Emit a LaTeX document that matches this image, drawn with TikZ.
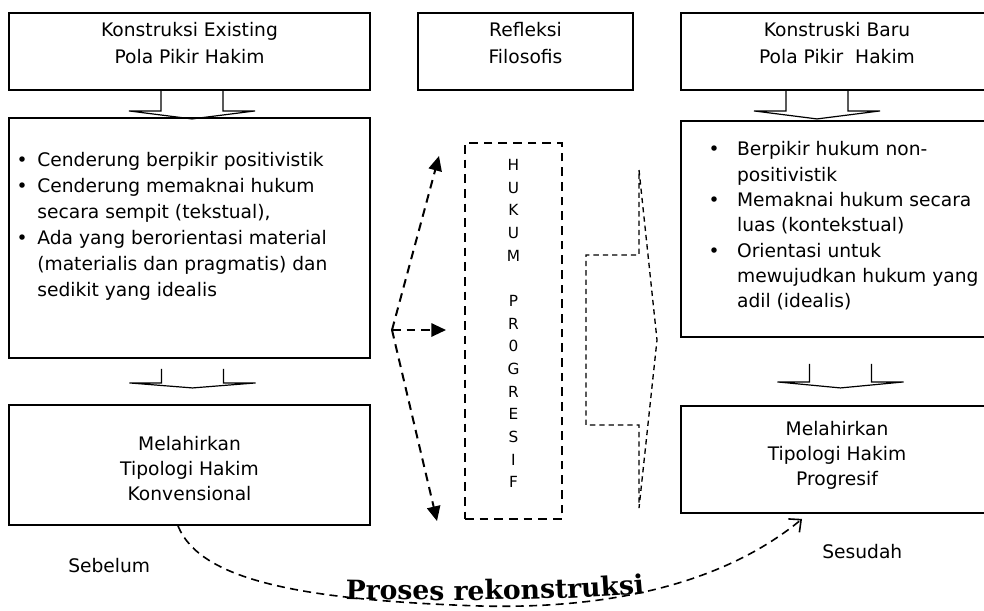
\documentclass[tikz,border=0pt]{standalone}
\usepackage{fontspec}
\setmainfont{DejaVu Sans}
\newfontfamily\wordartfont{DejaVu Serif}
\usetikzlibrary{arrows.meta,calc,decorations.text}

\tikzset{
  box/.style={draw, line width=1.4pt, inner sep=0pt},
  hollow/.style={line width=0.9pt},
  dashbox/.style={draw, line width=1.5pt, dash pattern=on 6.5pt off 4.5pt, inner sep=0pt},
  forkarrow/.style={line width=1.5pt, dash pattern=on 6.5pt off 4.5pt, -{Triangle[length=11pt,width=10pt]}},
  notch/.style={line width=1pt, dash pattern=on 4pt off 3pt},
  recon/.style={line width=1.2pt, dash pattern=on 6pt off 4pt, -{Straight Barb[length=7pt,width=13pt]}},
  side/.style={font=\fontsize{14}{17}\selectfont, inner sep=0pt}
}

% hollow block arrow: start point, stem length, head depth
\newcommand{\hollowdown}[3]{%
  \draw[hollow] (#1) ++(-31,0) -- ++(0,#2) -- ++(-32,0) -- ++(63,#3) -- ++(63,-#3) -- ++(-32,0) -- ++(0,-#2);}

\begin{document}
\begin{tikzpicture}[x=0.75pt,y=-0.75pt]
  \useasboundingbox (0,0) rectangle (984,610);
  % top row
  \node[box] (exist) at (189.5,51.5) {\parbox[c][57.75pt][t]{270.75pt}{\centering\fontsize{14}{20.25}\selectfont
    \vspace*{6.7pt}Konstruksi Existing\\Pola Pikir Hakim}};
  \node[box] (refl) at (525.5,51.5) {\parbox[c][57.75pt][t]{161.25pt}{\centering\fontsize{14}{20.25}\selectfont
    \vspace*{6.7pt}Refleksi\\Filosofis}};
  \node[box] (baru) at (837,51.5) {\parbox[c][57.75pt][t]{234pt}{\centering\fontsize{14}{20.25}\selectfont
    \vspace*{6.7pt}Konstruski Baru\\Pola Pikir~ Hakim}};
  % left column
  \node[box] (ciri) at (189.5,238) {\parbox[c][180pt][t]{270.75pt}{\fontsize{14}{19.5}\selectfont
    \vspace*{22.9pt}\hspace*{5.8pt}\begin{tabular}[t]{@{}l@{\hspace{7.2pt}}l@{}}
      \textbullet & Cenderung berpikir positivistik\\
      \textbullet & Cenderung memaknai hukum\\
                  & secara sempit (tekstual),\\
      \textbullet & Ada yang berorientasi material\\
                  & (materialis dan pragmatis) dan\\
                  & sedikit yang idealis
    \end{tabular}}};
  \node[box] (konv) at (189.5,465) {\parbox[c][90pt][t]{270.75pt}{\centering\fontsize{14}{18.75}\selectfont
    \vspace*{23.2pt}Melahirkan\\Tipologi Hakim\\Konvensional}};
  % right column
  \node[box] (cirib) at (837,229) {\parbox[c][162pt][t]{234pt}{\fontsize{14}{19}\selectfont
    \vspace*{12.7pt}\hspace*{20.8pt}\begin{tabular}[t]{@{}l@{\hspace{13pt}}l@{}}
      \textbullet & Berpikir hukum non-\\
                  & positivistik\\
      \textbullet & Memaknai hukum secara\\
                  & luas (kontekstual)\\
      \textbullet & Orientasi untuk\\
                  & mewujudkan hukum yang\\
                  & adil (idealis)
    \end{tabular}}};
  \node[box] (prog) at (837,459.5) {\parbox[c][80.25pt][t]{234pt}{\centering\fontsize{14}{18.75}\selectfont
    \vspace*{11.2pt}Melahirkan\\Tipologi Hakim\\Progresif}};
  % middle column
  \node[dashbox] (hukum) at (513.5,331) {\parbox[c][282pt][t]{72.75pt}{\centering\fontsize{11.5}{17}\selectfont
    \vspace*{12.2pt}H\\U\\K\\U\\M\\[17pt]P\\R\\0\\G\\R\\E\\S\\I\\F}};

  % hollow arrows between boxes
  \hollowdown{$(exist.south)+(2.5,0)$}{20}{8}
  \hollowdown{$(ciri.south)+(3,10)$}{14}{5}
  \hollowdown{$(baru.south)+(-20,0)$}{20}{8}
  \hollowdown{$(cirib.south)+(3.5,26)$}{18}{6}

  % dashed fork towards the middle box
  \coordinate (fork) at (392,330);
  \draw[forkarrow] (fork) -- ($(hukum.north west)+(-25,14)$);
  \draw[forkarrow] (fork) -- ($(hukum.west)+(-18,-1)$);
  \draw[forkarrow] (fork) -- ($(hukum.south west)+(-27,1)$);

  % dashed block arrow to the right
  \draw[notch] (639,170) -- (657,340) -- (639,508) -- (639,425) -- (586,425) -- (586,255) -- (639,255) -- cycle;

  % before / after
  \node[side, anchor=base west] (before) at (68,572) {Sebelum};
  \node[side, anchor=base west] (after) at (822,558) {Sesudah};
  \draw[recon] ($(konv.south)+(-11.5,0)$) .. controls (200,580) and (300,600) .. (480,606)
    .. controls (640,610) and (740,570) .. ($(prog.south)+(-35,5)$);
  \path[decorate, decoration={text along path, text align=center,
    text={|\wordartfont\bfseries\fontsize{20}{24}\selectfont|Proses rekonstruksi}}]
    (343,599) .. controls (450,601) and (560,601) .. (647,593);
\end{tikzpicture}
\end{document}
